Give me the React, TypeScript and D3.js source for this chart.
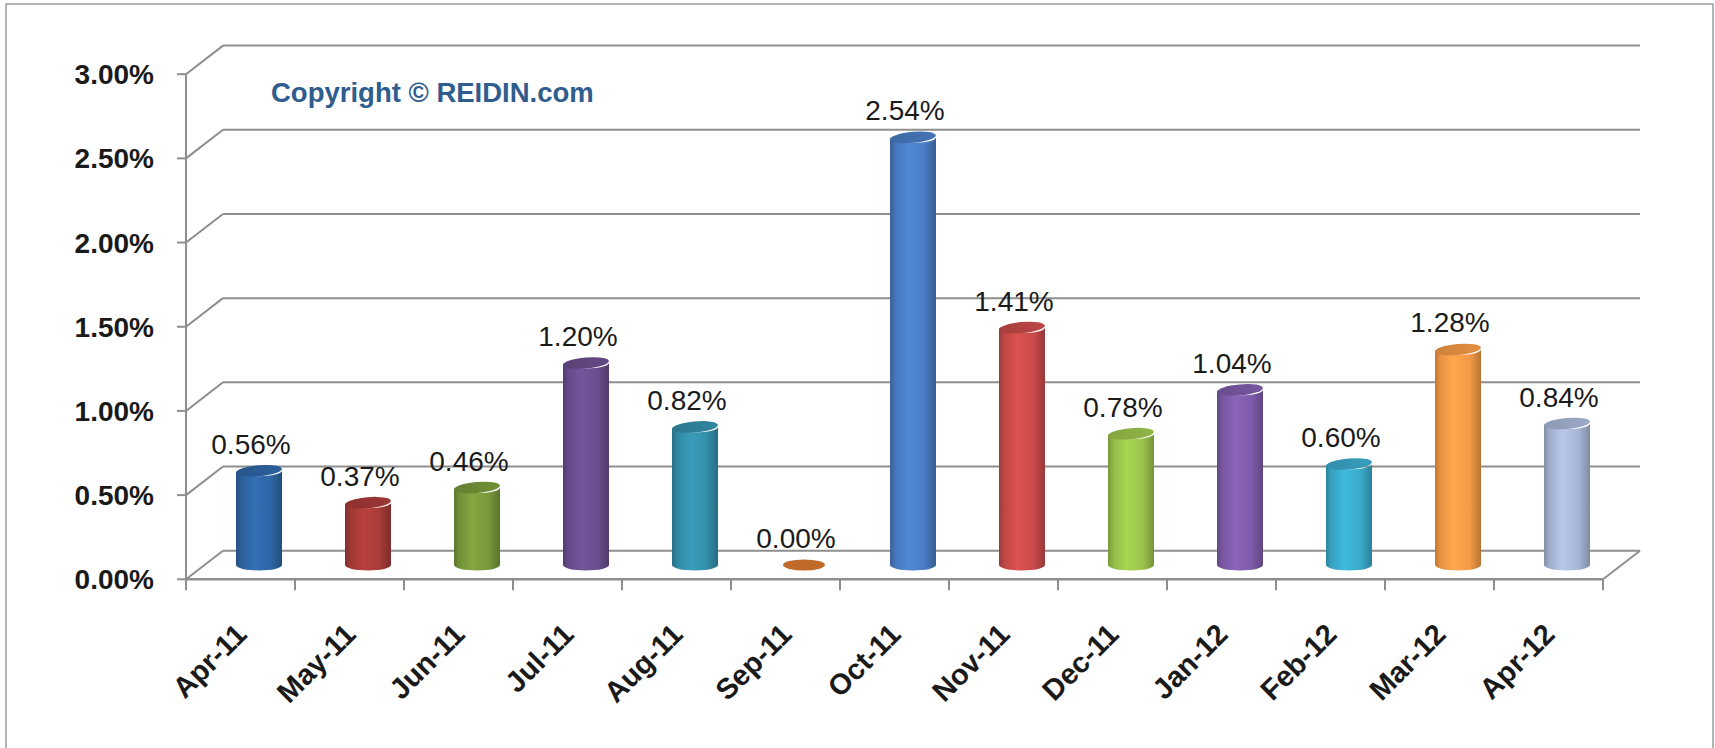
import React from "react";
import * as d3 from "d3";

const categories = ["Apr-11","May-11","Jun-11","Jul-11","Aug-11","Sep-11","Oct-11","Nov-11","Dec-11","Jan-12","Feb-12","Mar-12","Apr-12"];
const values = [0.0056,0.0037,0.0046,0.0120,0.0082,0.0000,0.0254,0.0141,0.0078,0.0104,0.0060,0.0128,0.0084];
const barColors = ["#2f66a6","#a83b38","#78993b","#6a4e8e","#3490aa","#c06a2a","#4a7dc4","#c94b4a","#9bc44c","#7f5cab","#3aaacb","#f59a46","#a7b7d7"];
const yTicks = [0,0.005,0.01,0.015,0.02,0.025,0.03];
const copyright = "Copyright © REIDIN.com";

const W = 1715, H = 748;
const FONT = "'Liberation Sans', Arial, sans-serif";

export default function App() {
  const x0 = 186, x1 = 1603;
  const depthX = 37, depthY = -28.6;
  const y = d3.scaleLinear().domain([0, 0.03]).range([579.3, 74.2]);
  const x = d3.scaleBand().domain(categories).range([x0, x1]).padding(0);
  const fmt = d3.format(".2%");
  const grid = "#8e8e8e";
  const barW = 46, rx = barW / 2, ry = 5.5;
  const midX = depthX / 2, midY = depthY / 2;

  return (
    <svg width={W} height={H} style={{ position: "absolute", left: 0, top: 0, display: "block", background: "#fff" }}>
      <defs>
        {barColors.map((c, i) => {
          const col = d3.color(c)!;
          return (
            <React.Fragment key={i}>
              <linearGradient id={`g${i}`} x1="0" x2="1" y1="0" y2="0">
                <stop offset="0" stopColor={d3.color(c)!.darker(0.7).formatHex()} />
                <stop offset="0.12" stopColor={d3.color(c)!.darker(0.15).formatHex()} />
                <stop offset="0.4" stopColor={d3.color(c)!.brighter(0.25).formatHex()} />
                <stop offset="0.75" stopColor={col.formatHex()} />
                <stop offset="1" stopColor={d3.color(c)!.darker(0.8).formatHex()} />
              </linearGradient>
              <linearGradient id={`t${i}`} x1="0" x2="1" y1="0" y2="0">
                <stop offset="0" stopColor={d3.color(c)!.darker(0.5).formatHex()} />
                <stop offset="1" stopColor={d3.color(c)!.darker(0.2).formatHex()} />
              </linearGradient>
            </React.Fragment>
          );
        })}
      </defs>
      <rect x={6} y={4} width={1707} height={760} fill="#fff" stroke="#9a9a9a" strokeWidth={1.5} />

      {/* back wall gridlines and side wall diagonals */}
      {yTicks.map((t, i) => (
        <g key={i}>
          <line x1={x0 + depthX} x2={x1 + depthX} y1={y(t) + depthY} y2={y(t) + depthY} stroke={grid} strokeWidth={2} />
          <line x1={x0} x2={x0 + depthX} y1={y(t)} y2={y(t) + depthY} stroke={grid} strokeWidth={2} />
          <line x1={x0 - 9} x2={x0} y1={y(t)} y2={y(t)} stroke={grid} strokeWidth={2} />
          <text x={154} y={y(t)} dy="0.36em" textAnchor="end" fontFamily={FONT} fontWeight="bold" fontSize={28} fill="#1a1a1a">{fmt(t)}</text>
        </g>
      ))}
      {/* front vertical axis */}
      <line x1={x0} x2={x0} y1={y(0.03)} y2={y(0)} stroke={grid} strokeWidth={2} />
      {/* floor */}
      <line x1={x0} x2={x1} y1={y(0)} y2={y(0)} stroke={grid} strokeWidth={2.5} />
      <line x1={x1} x2={x1 + depthX} y1={y(0)} y2={y(0) + depthY} stroke={grid} strokeWidth={2} />
      {/* x ticks */}
      {[...categories.map((c) => x(c)!), x1].map((xv, i) => (
        <line key={i} x1={xv} x2={xv} y1={y(0)} y2={y(0) + 11} stroke={grid} strokeWidth={2} />
      ))}

      <text x={271} y={102} fontFamily={FONT} fontWeight="bold" fontSize={27.5} fill="#2e5d8e">{copyright}</text>

      {/* bars */}
      {categories.map((c, i) => {
        const v = values[i];
        const cx = x(c)! + x.bandwidth() / 2 + midX;
        const yb = y(0) + midY;
        const yt = y(v) + midY;
        const l = cx - rx, r = cx + rx;
        const body = `M${l},${yt} L${l},${yb} A${rx},${ry} 0 0 0 ${r},${yb} L${r},${yt} A${rx},${ry} 0 0 1 ${l},${yt} Z`;
        return (
          <g key={c}>
            {v > 0 ? (
              <>
                <path d={body} fill={`url(#g${i})`} />
                <ellipse cx={cx} cy={yt} rx={rx} ry={ry} fill={`url(#t${i})`} transform={`rotate(-5 ${cx} ${yt})`} />
              </>
            ) : (
              <ellipse cx={cx} cy={yb} rx={rx - 2} ry={ry} fill={barColors[i]} />
            )}
            <text x={cx - 8} y={yt - 17} textAnchor="middle" fontFamily={FONT} fontSize={28} fill="#1a1a1a">{fmt(v)}</text>
          </g>
        );
      })}

      {/* x labels */}
      {categories.map((c) => {
        const px = x(c)! + x.bandwidth() / 2 + 8;
        const py = 636;
        return (
          <text key={c} x={px} y={py} textAnchor="end" fontFamily={FONT} fontWeight="bold" fontSize={29} fill="#1a1a1a" transform={`rotate(-45 ${px} ${py})`}>{c}</text>
        );
      })}
    </svg>
  );
}
